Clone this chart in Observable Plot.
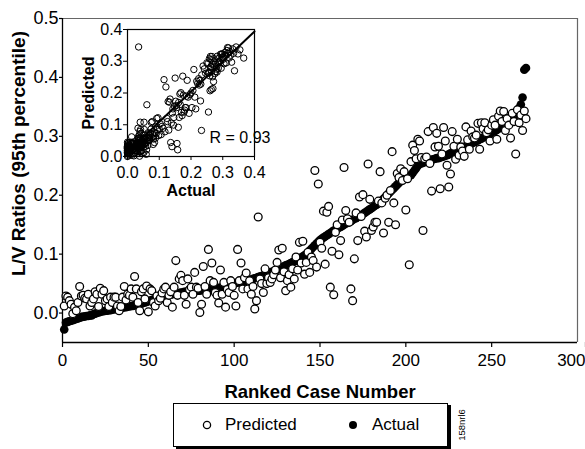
<!DOCTYPE html>
<html><head><meta charset="utf-8">
<script src="https://cdn.jsdelivr.net/npm/d3@7"></script>
<script src="https://cdn.jsdelivr.net/npm/@observablehq/plot@0.6"></script>
<style>
body{margin:0;background:#fff;font-family:"Liberation Sans",Arial,sans-serif;}
#wrap{position:relative;width:585px;height:449px;overflow:hidden;background:#fff;}
#main{position:absolute;left:0;top:0;}
#inset{position:absolute;left:70px;top:10px;}
#legend{position:absolute;left:173px;top:403px;width:273px;height:42px;border:1px solid #000;box-shadow:3px 2px 0 #000;background:#fff;}
.lg{position:absolute;font-size:17px;top:11px;}
#code{position:absolute;left:452px;top:400px;}
</style></head>
<body>
<div id="wrap">
  <div id="main"></div>
  <div id="inset"></div>
  <div id="legend">
    <svg style="position:absolute;left:0;top:0" width="273" height="42">
      <circle cx="33" cy="21" r="3.6" fill="#fff" stroke="#000" stroke-width="1.3"></circle>
      <circle cx="179" cy="21" r="4" fill="#000"></circle>
    </svg>
    <span class="lg" style="left:51px">Predicted</span>
    <span class="lg" style="left:198px">Actual</span>
  </div>
  <svg id="code" width="20" height="49">
    <text transform="translate(13,25) rotate(-90)" text-anchor="middle" font-size="9.5" font-family="Liberation Sans, Arial, sans-serif">158nrl6</text>
  </svg>
</div>
<script>
const xTicks = [0, 50, 100, 150, 200, 250];
const xLastTick = [300];
const yTicks = [0, 0.1, 0.2, 0.3, 0.4, 0.5];
const insetTicks = [0, 0.1, 0.2, 0.3, 0.4];
const xTitle = "Ranked Case Number";
const yTitle = "L/V Ratios (95th percentile)";
const insetXTitle = "Actual";
const insetYTitle = "Predicted";
const rLabel = "R = 0.93";

// Actual L/V ratio, by ranked case number 1..270
const actualRatio = [
-0.028,-0.016,-0.015,-0.014,-0.013,-0.012,-0.011,-0.010,-0.009,-0.008,
-0.007,-0.006,-0.006,-0.005,-0.005,-0.004,-0.004,-0.002,-0.001,0.000,
0.001,0.002,0.003,0.003,0.004,0.004,0.005,0.005,0.006,0.006,
0.007,0.007,0.008,0.008,0.009,0.010,0.010,0.011,0.011,0.012,
0.012,0.013,0.014,0.014,0.015,0.016,0.017,0.018,0.019,0.020,
0.021,0.022,0.023,0.024,0.025,0.026,0.027,0.028,0.028,0.029,
0.030,0.031,0.031,0.032,0.033,0.033,0.034,0.034,0.035,0.035,
0.036,0.036,0.037,0.037,0.037,0.037,0.038,0.038,0.038,0.038,
0.039,0.039,0.039,0.040,0.040,0.040,0.041,0.041,0.042,0.042,
0.043,0.043,0.044,0.045,0.046,0.047,0.048,0.049,0.050,0.051,
0.051,0.052,0.052,0.053,0.053,0.054,0.054,0.055,0.056,0.057,
0.058,0.059,0.060,0.061,0.062,0.063,0.064,0.065,0.066,0.068,
0.069,0.070,0.071,0.072,0.074,0.075,0.077,0.078,0.079,0.081,
0.082,0.083,0.085,0.086,0.088,0.089,0.091,0.092,0.094,0.096,
0.098,0.100,0.103,0.106,0.109,0.112,0.115,0.118,0.121,0.124,
0.126,0.128,0.130,0.132,0.134,0.136,0.138,0.140,0.141,0.143,
0.145,0.146,0.148,0.150,0.152,0.153,0.155,0.156,0.158,0.160,
0.161,0.163,0.165,0.166,0.168,0.170,0.172,0.174,0.176,0.178,
0.180,0.182,0.184,0.186,0.188,0.191,0.194,0.197,0.200,0.203,
0.206,0.209,0.212,0.215,0.218,0.221,0.224,0.226,0.228,0.230,
0.231,0.233,0.234,0.238,0.242,0.246,0.250,0.253,0.254,0.255,
0.256,0.257,0.258,0.259,0.260,0.261,0.262,0.263,0.263,0.264,
0.265,0.266,0.267,0.268,0.269,0.271,0.272,0.274,0.275,0.277,
0.278,0.279,0.281,0.282,0.283,0.285,0.286,0.287,0.289,0.290,
0.292,0.293,0.295,0.296,0.298,0.299,0.301,0.302,0.304,0.306,
0.307,0.309,0.311,0.313,0.315,0.316,0.318,0.320,0.322,0.325,
0.328,0.331,0.334,0.337,0.342,0.348,0.354,0.366,0.413,0.416
];

// Predicted L/V ratio, same ranked cases
const predictedRatio = [
0.012,0.029,0.027,0.021,0.015,-0.001,0.010,0.004,0.018,0.045,
0.029,0.030,0.025,0.024,0.032,0.012,0.018,0.024,0.036,0.032,
0.011,0.042,0.032,0.038,0.021,0.024,0.011,0.027,0.018,0.027,
0.027,0.012,0.004,0.011,0.027,0.045,0.022,0.032,0.030,0.041,
0.027,0.062,0.041,0.018,0.004,0.036,0.041,0.024,0.046,0.002,
0.041,0.038,0.018,0.012,0.029,0.021,0.025,0.034,0.041,0.044,
0.018,0.030,0.036,0.010,0.044,0.089,0.030,0.058,0.064,0.055,
0.030,0.015,0.058,0.040,0.044,0.032,0.069,0.044,0.042,0.001,
0.015,0.079,0.045,0.032,0.108,0.055,0.085,0.052,0.035,0.030,
0.017,0.073,0.032,0.052,0.010,0.040,0.035,0.055,0.045,0.030,
0.012,0.108,0.055,0.085,0.041,0.060,0.068,0.041,0.055,0.032,
0.045,0.007,0.021,0.163,0.058,0.050,0.035,0.075,0.050,0.060,
0.052,0.058,0.065,0.073,0.086,0.107,0.060,0.110,0.070,0.038,
0.055,0.065,0.044,0.075,0.058,0.095,0.073,0.120,0.085,0.122,
0.066,0.086,0.103,0.069,0.095,0.089,0.242,0.078,0.219,0.120,
0.110,0.173,0.083,0.171,0.181,0.044,0.105,0.031,0.137,0.150,
0.099,0.123,0.158,0.247,0.174,0.160,0.154,0.041,0.021,0.092,
0.170,0.123,0.197,0.164,0.201,0.139,0.129,0.253,0.193,0.140,
0.146,0.154,0.154,0.190,0.240,0.187,0.136,0.195,0.200,0.154,
0.208,0.274,0.187,0.150,0.237,0.230,0.245,0.225,0.240,0.175,
0.228,0.082,0.257,0.285,0.276,0.262,0.295,0.292,0.264,0.140,
0.262,0.265,0.308,0.254,0.207,0.315,0.282,0.305,0.283,0.211,
0.270,0.315,0.292,0.251,0.214,0.236,0.308,0.283,0.261,0.295,
0.268,0.282,0.275,0.266,0.316,0.294,0.278,0.309,0.299,0.297,
0.302,0.322,0.278,0.323,0.313,0.323,0.306,0.311,0.292,0.319,
0.328,0.319,0.295,0.334,0.343,0.325,0.342,0.310,0.330,0.319,
0.297,0.339,0.325,0.270,0.345,0.323,0.336,0.310,0.343,0.330
];

// Inset-only point (visible in the inset scatter)
const insetOnlyActual = [0.035];
const insetOnlyPredicted = [0.345];

// Regression line in the inset (endpoints)
const fitActual = [0, 0.4];
const fitPredicted = [0.014, 0.394];

const rows = actualRatio.map((a, i) => ({rank: i + 1, actual: a, predicted: predictedRatio[i]}));
const insetRows = rows.map(d => ({actual: d.actual, predicted: d.predicted}))
  .concat(insetOnlyActual.map((a, i) => ({actual: a, predicted: insetOnlyPredicted[i]})));
const fitRows = fitActual.map((a, i) => ({actual: a, predicted: fitPredicted[i]}));

const FONT = '"Liberation Sans", Arial, sans-serif';
const fmt1 = d3.format(".1f");

const main = Plot.plot({
  width: 585, height: 400,
  marginLeft: 62, marginRight: 8, marginTop: 18, marginBottom: 58,
  style: {fontFamily: FONT, fontSize: "17px", color: "#000", background: "#fff", overflow: "visible"},
  x: {domain: [0, 300]},
  y: {domain: [-0.05, 0.5]},
  marks: [
    Plot.ruleY([0.5], {stroke: "#666", strokeWidth: 1.2}),
    Plot.ruleX([300], {stroke: "#666", strokeWidth: 1.2}),
    Plot.axisX({ticks: xTicks, tickSize: 5, tickPadding: 6, label: null, stroke: "#000", strokeWidth: 1.2}),
    Plot.axisX({ticks: xLastTick, tickSize: 5, tickPadding: 6, label: null, stroke: "#000", strokeWidth: 1.2, textAnchor: "end", dx: 8}),
    Plot.axisY({ticks: yTicks, tickSize: 3, tickPadding: 1, tickFormat: fmt1, label: null, stroke: "#000", strokeWidth: 1.2, fontSize: 18}),
    Plot.ruleX([0], {stroke: "#000", strokeWidth: 1.3}),
    Plot.ruleY([-0.05], {stroke: "#000", strokeWidth: 1.3}),
    Plot.dot(rows, {x: "rank", y: "actual", r: 4.3, fill: "#000", stroke: "none"}),
    Plot.dot(rows, {x: "rank", y: "predicted", r: 3.9, fill: "#fff", stroke: "#000", strokeWidth: 1.3}),
    Plot.text([xTitle], {text: d => d, frameAnchor: "bottom", textAnchor: "middle", lineAnchor: "bottom", dy: 55, fontSize: 18.5, fontWeight: "bold"}),
    Plot.text([yTitle], {text: d => d, frameAnchor: "left", textAnchor: "middle", lineAnchor: "middle", rotate: -90, dx: -44, dy: -27, fontSize: 19, fontWeight: "bold"})
  ]
});
document.getElementById("main").appendChild(main);

const inset = Plot.plot({
  width: 202, height: 190,
  marginLeft: 57, marginRight: 18, marginTop: 19, marginBottom: 44,
  style: {fontFamily: FONT, fontSize: "16px", color: "#000", background: "transparent", overflow: "visible"},
  x: {domain: [0, 0.4], clamp: true},
  y: {domain: [0, 0.4], clamp: true},
  marks: [
    Plot.frame({stroke: "#000", strokeWidth: 1.2}),
    Plot.axisX({ticks: insetTicks, tickSize: 4, tickPadding: 6, tickFormat: fmt1, label: null, stroke: "#000"}),
    Plot.axisY({ticks: insetTicks, tickSize: 4, tickPadding: 1, tickFormat: fmt1, label: null, stroke: "#000"}),
    Plot.dot(insetRows, {x: "actual", y: "predicted", r: 3.2, fill: "none", stroke: "#000", strokeWidth: 1, filter: d => d.actual <= 0.4}),
    Plot.line(fitRows, {x: "actual", y: "predicted", stroke: "#000", strokeWidth: 2}),
    Plot.text([rLabel], {text: d => d, frameAnchor: "bottom-right", textAnchor: "end", lineAnchor: "bottom", dx: 16, dy: -14, fontSize: 16}),
    Plot.text([insetYTitle], {text: d => d, frameAnchor: "left", textAnchor: "middle", lineAnchor: "middle", rotate: -90, dx: -39, fontSize: 16, fontWeight: "bold"}),
    Plot.text([insetXTitle], {text: d => d, frameAnchor: "bottom", textAnchor: "middle", lineAnchor: "bottom", dy: 39, fontSize: 16, fontWeight: "bold"})
  ]
});
document.getElementById("inset").appendChild(inset);
</script>
</body></html>
